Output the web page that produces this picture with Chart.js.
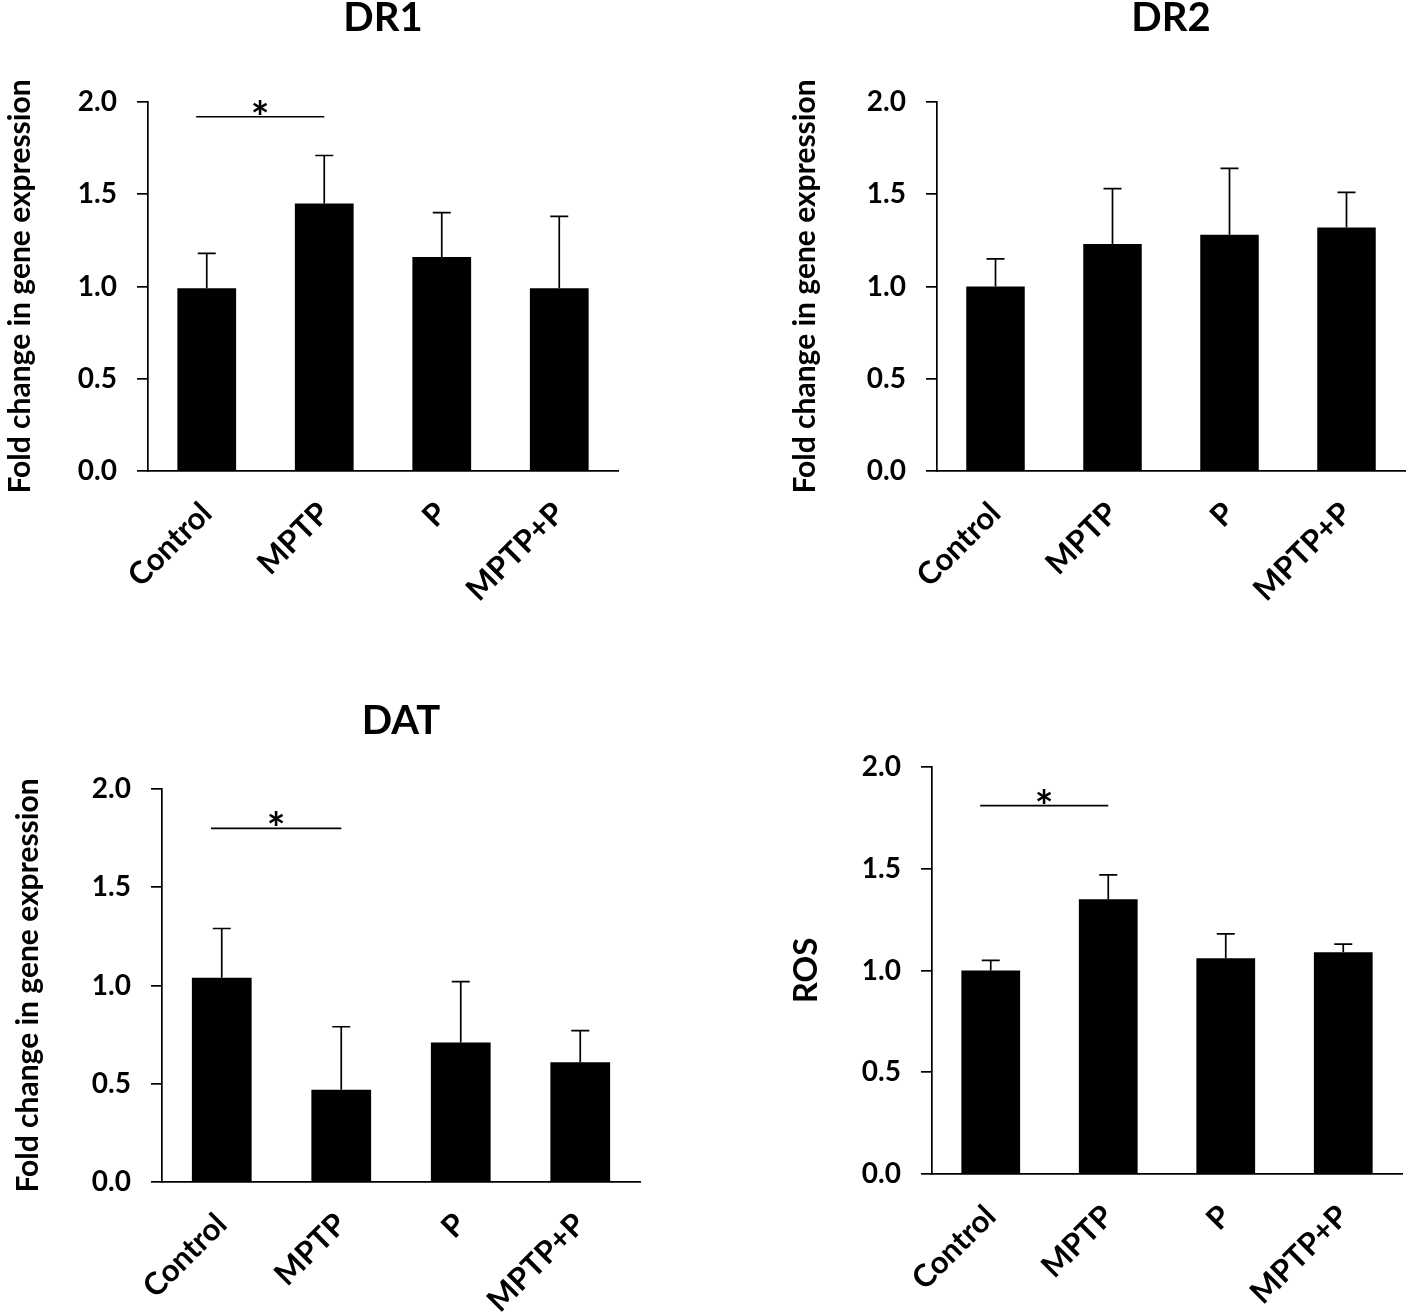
<!DOCTYPE html>
<html><head><meta charset="utf-8">
<script src="https://cdn.jsdelivr.net/npm/chart.js@4.4.1/dist/chart.umd.min.js"></script>
<style>
html,body{margin:0;padding:0;background:#fff;}
body{width:1410px;height:1315px;position:relative;overflow:hidden;}
canvas{position:absolute;display:block;}
</style></head><body>
<canvas id="c1" width="630" height="650" style="left:0px;top:0px"></canvas>
<canvas id="c2" width="625" height="650" style="left:785px;top:0px"></canvas>
<canvas id="c3" width="640" height="615" style="left:8px;top:700px"></canvas>
<canvas id="c4" width="625" height="615" style="left:785px;top:700px"></canvas>
<script>
// ---- data ----
const categories = ['Control', 'MPTP', 'P', 'MPTP+P'];
const yTickValues = [0, 0.5, 1.0, 1.5, 2.0];
const yTickLabels = ['0.0', '0.5', '1.0', '1.5', '2.0'];

const dr1Values = [0.99, 1.45, 1.16, 0.99];
const dr1Errors = [0.19, 0.26, 0.24, 0.39];
const dr1Sig = [0, 1, 1.92];   // from category, to category, level

const dr2Values = [1.00, 1.23, 1.28, 1.32];
const dr2Errors = [0.15, 0.30, 0.36, 0.19];

const datValues = [1.04, 0.47, 0.71, 0.61];
const datErrors = [0.25, 0.32, 0.31, 0.16];
const datSig = [0, 1, 1.80];

const rosValues = [1.00, 1.35, 1.06, 1.09];
const rosErrors = [0.05, 0.12, 0.12, 0.04];
const rosSig = [0, 1, 1.81];

const FONT = 'Lato';

const errorBarPlugin = {
  id: 'errorBars',
  afterDatasetsDraw(chart, args, opts) {
    const ctx = chart.ctx;
    const xs = chart.scales.x, ys = chart.scales.y;
    const meta = chart.getDatasetMeta(0);
    const vals = chart.data.datasets[0].data;
    ctx.save();
    ctx.strokeStyle = '#000';
    ctx.lineWidth = 1.7;
    meta.data.forEach((bar, i) => {
      const e = opts.errors[i];
      const yTop = ys.getPixelForValue(vals[i] + e);
      const yBase = ys.getPixelForValue(vals[i]);
      ctx.beginPath();
      ctx.moveTo(bar.x, yBase); ctx.lineTo(bar.x, yTop);
      ctx.moveTo(bar.x - 9, yTop); ctx.lineTo(bar.x + 9, yTop);
      ctx.stroke();
    });
    if (opts.sig) {
      const s = opts.sig;
      const x1 = xs.getPixelForValue(s[0] - 0.09), x2 = xs.getPixelForValue(s[1]);
      const yy = ys.getPixelForValue(s[2]);
      ctx.beginPath(); ctx.moveTo(x1, yy); ctx.lineTo(x2, yy); ctx.stroke();
      ctx.font = 'bold 44px ' + FONT;
      ctx.textAlign = 'center'; ctx.textBaseline = 'alphabetic';
      ctx.fillStyle = '#000';
      ctx.fillText('*', (x1 + x2) / 2, yy + 16);
    }
    ctx.restore();
  }
};

function makeChart(id, o) {
  return new Chart(document.getElementById(id), {
    type: 'bar',
    data: { labels: categories, datasets: [{ data: o.values, backgroundColor: '#000', borderWidth: 0, categoryPercentage: 1, barPercentage: 0.5 }] },
    options: {
      responsive: false, animation: false, devicePixelRatio: 1,
      layout: { padding: o.padding },
      plugins: {
        legend: { display: false }, tooltip: { enabled: false },
        title: o.title ? { display: true, text: o.title, fullSize: false, color: '#000',
          font: { family: FONT, size: 40, weight: 'bold', lineHeight: 0.9 }, padding: { top: 0, bottom: o.titleGap } } : { display: false },
        errorBars: { errors: o.errors, sig: o.sig }
      },
      scales: {
        x: {
          grid: { display: false },
          border: { display: true, color: '#000', width: 1.7 },
          ticks: { color: '#000', font: { family: FONT, size: 31, weight: 'bold' }, minRotation: 45, maxRotation: 45, padding: 16, autoSkip: false },
          afterFit(s) { s.height = o.xHeight; }
        },
        y: {
          min: 0, max: 2,
          afterBuildTicks(s) { s.ticks = yTickValues.map(v => ({ value: v })); },
          grid: { display: true, drawOnChartArea: false, drawTicks: true, tickLength: 11, color: '#000', lineWidth: 1.7 },
          border: { display: true, color: '#000', width: 1.7 },
          ticks: { color: '#000', font: { family: FONT, size: 28, weight: 'bold' }, padding: 20, callback: (v, i) => yTickLabels[i] },
          title: { display: true, text: o.yTitle, color: '#000', font: { family: FONT, size: o.yTitleSize, weight: 'bold' }, padding: { top: 2, bottom: 0 } },
          afterFit(s) { s.width = o.yWidth; }
        }
      }
    },
    plugins: [errorBarPlugin]
  });
}

const yLabel = 'Fold change in gene expression';
makeChart('c1', { values: dr1Values, errors: dr1Errors, sig: dr1Sig, title: 'DR1', titleGap: 66, yTitle: yLabel, yTitleSize: 30,
  padding: { top: 0, left: 0, right: 12, bottom: 0 }, yWidth: 148, xHeight: 179 });
makeChart('c2', { values: dr2Values, errors: dr2Errors, sig: null, title: 'DR2', titleGap: 66, yTitle: yLabel, yTitleSize: 30,
  padding: { top: 0, left: 0, right: 5, bottom: 0 }, yWidth: 152, xHeight: 179 });
makeChart('c3', { values: datValues, errors: datErrors, sig: datSig, title: 'DAT', titleGap: 50, yTitle: yLabel, yTitleSize: 30,
  padding: { top: 3, left: 0, right: 8, bottom: 0 }, yWidth: 154, xHeight: 133 });
makeChart('c4', { values: rosValues, errors: rosErrors, sig: rosSig, title: null, yTitle: 'ROS', yTitleSize: 33,
  padding: { top: 67, left: 0, right: 8, bottom: 0 }, yWidth: 147, xHeight: 141 });
</script>
</body></html>
